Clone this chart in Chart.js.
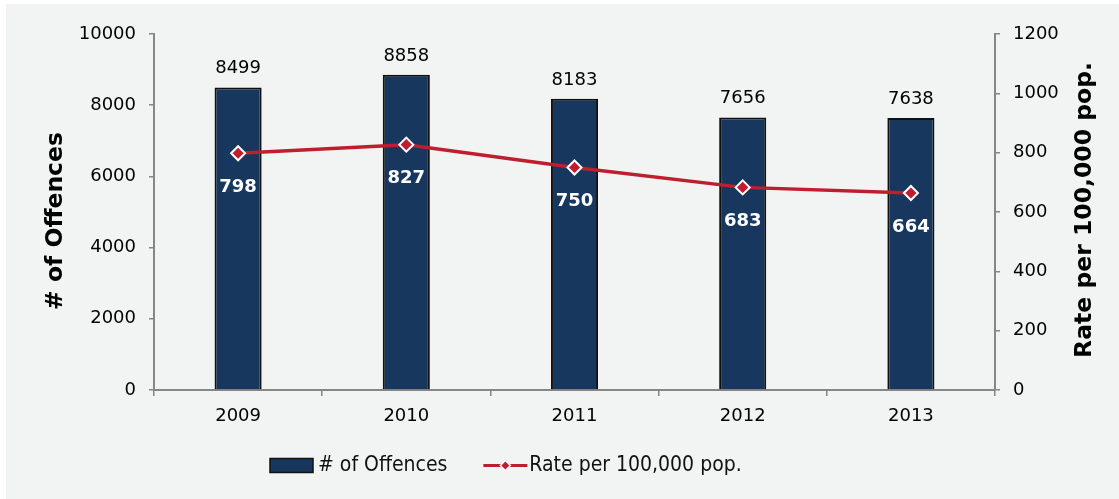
<!DOCTYPE html>
<html>
<head>
<meta charset="utf-8">
<script src="https://cdn.jsdelivr.net/npm/chart.js@4/dist/chart.umd.min.js"></script>
<style>
  html, body { margin: 0; padding: 0; background: #ffffff; }
  #wrap { width: 1119px; height: 499px; }
</style>
</head>
<body>
<div id="wrap"><canvas id="c" width="1119" height="499"></canvas></div>
<script>
// Offences recorded and rate per 100,000 population, by year
const years = ['2009', '2010', '2011', '2012', '2013'];
const offences = [8499, 8858, 8183, 7656, 7638];
const ratePer100k = [798, 827, 750, 683, 664];
const offenceTicks = [0, 2000, 4000, 6000, 8000, 10000];
const rateTicks = [0, 200, 400, 600, 800, 1000, 1200];

const NAVY = '#17375e';
const RED = '#be1e2d';
const AXIS = '#868686';
const FONT = '"DejaVu Sans", Verdana, sans-serif';
const LEGEND_FONT = '"DejaVu Sans Condensed", "Liberation Sans", sans-serif';

// Panel background behind everything
const panelBg = {
  id: 'panelBg',
  beforeDraw(chart) {
    const ctx = chart.ctx;
    ctx.save();
    ctx.fillStyle = '#f2f3f3';
    ctx.fillRect(6, 4, chart.width - 6, chart.height - 4);
    ctx.restore();
  }
};

// Value labels, rotated axis titles and the legend row
const annotations = {
  id: 'annotations',
  afterDatasetsDraw(chart) {
    const ctx = chart.ctx;
    ctx.save();

    // bar values above each bar
    const barMeta = chart.getDatasetMeta(0);
    ctx.font = '18px ' + FONT;
    ctx.fillStyle = '#000000';
    ctx.textAlign = 'center';
    ctx.textBaseline = 'alphabetic';
    barMeta.data.forEach((bar, i) => {
      ctx.fillText(String(offences[i]), bar.x, bar.y - 14);
    });

    // rate values below each point
    const lineMeta = chart.getDatasetMeta(1);
    ctx.font = 'bold 18px ' + FONT;
    ctx.fillStyle = '#ffffff';
    lineMeta.data.forEach((pt, i) => {
      ctx.fillText(String(ratePer100k[i]), pt.x, pt.y + 38.5);
    });

    // axis titles, both reading bottom to top
    ctx.font = 'bold 23.5px ' + FONT;
    ctx.fillStyle = '#000000';
    ctx.textBaseline = 'middle';
    [[56, 221, '# of Offences'], [1085, 210, 'Rate per 100,000 pop.']].forEach(([x, y, t]) => {
      ctx.save();
      ctx.translate(x, y);
      ctx.rotate(-Math.PI / 2);
      ctx.fillText(t, 0, 0);
      ctx.restore();
    });

    // legend
    const ly = 465.5;
    let lx = 270;
    ctx.font = '21px ' + LEGEND_FONT;
    ctx.textAlign = 'left';
    ctx.textBaseline = 'middle';
    ctx.fillStyle = NAVY;
    ctx.strokeStyle = '#111111';
    ctx.lineWidth = 1.5;
    ctx.fillRect(lx, ly - 7, 43, 14);
    ctx.strokeRect(lx, ly - 7, 43, 14);
    lx += 48;
    ctx.fillStyle = '#111111';
    const t1 = chart.data.datasets[0].label;
    ctx.fillText(t1, lx, ly);
    lx += ctx.measureText(t1).width + 36;
    ctx.strokeStyle = RED;
    ctx.lineWidth = 3;
    ctx.beginPath();
    ctx.moveTo(lx, ly);
    ctx.lineTo(lx + 44, ly);
    ctx.stroke();
    const cx = lx + 22, r = 5;
    ctx.beginPath();
    ctx.moveTo(cx - r, ly); ctx.lineTo(cx, ly - r); ctx.lineTo(cx + r, ly); ctx.lineTo(cx, ly + r);
    ctx.closePath();
    ctx.fillStyle = RED;
    ctx.fill();
    ctx.strokeStyle = '#ffffff';
    ctx.lineWidth = 1.5;
    ctx.stroke();
    lx += 46;
    ctx.fillStyle = '#111111';
    ctx.fillText(chart.data.datasets[1].label, lx, ly);

    ctx.restore();
  }
};

const tickOpts = {
  font: { family: FONT, size: 18 },
  color: '#000000'
};
const plainNumber = v => String(v);

new Chart(document.getElementById('c'), {
  type: 'bar',
  data: {
    labels: years,
    datasets: [
      {
        type: 'bar',
        label: '# of Offences',
        data: offences,
        yAxisID: 'y',
        backgroundColor: NAVY,
        borderColor: '#111111',
        borderWidth: 2,
        categoryPercentage: 1,
        barPercentage: 0.28,
        order: 2
      },
      {
        type: 'line',
        label: 'Rate per 100,000 pop.',
        data: ratePer100k,
        yAxisID: 'y1',
        borderColor: RED,
        borderWidth: 3.5,
        pointStyle: 'rectRot',
        pointRadius: 7,
        pointHoverRadius: 7,
        pointBackgroundColor: RED,
        pointBorderColor: '#ffffff',
        pointBorderWidth: 2,
        tension: 0,
        order: 1
      }
    ]
  },
  options: {
    responsive: false,
    animation: false,
    events: [],
    layout: { padding: { top: 34, left: 0, right: 0, bottom: 0 } },
    plugins: {
      legend: { display: false },
      tooltip: { enabled: false }
    },
    scales: {
      x: {
        type: 'category',
        offset: true,
        grid: { offset: true, drawOnChartArea: false, drawTicks: true, tickLength: 6, color: AXIS, lineWidth: 1.5 },
        border: { color: AXIS, width: 2 },
        ticks: Object.assign({ padding: 10, maxRotation: 0 }, tickOpts),
        afterFit(scale) { scale.height = 109; }
      },
      y: {
        position: 'left',
        min: 0,
        max: 10000,
        afterBuildTicks(scale) { scale.ticks = offenceTicks.map(v => ({ value: v })); },
        grid: { drawOnChartArea: false, drawTicks: true, tickLength: 5, color: AXIS, lineWidth: 1.5 },
        border: { color: AXIS, width: 2 },
        ticks: Object.assign({ padding: 13, callback: plainNumber }, tickOpts),
        afterFit(scale) { scale.width = 154; }
      },
      y1: {
        position: 'right',
        min: 0,
        max: 1200,
        afterBuildTicks(scale) { scale.ticks = rateTicks.map(v => ({ value: v })); },
        grid: { drawOnChartArea: false, drawTicks: true, tickLength: 5, color: AXIS, lineWidth: 1.5 },
        border: { color: AXIS, width: 2 },
        ticks: Object.assign({ padding: 13, callback: plainNumber }, tickOpts),
        afterFit(scale) { scale.width = 124; }
      }
    }
  },
  plugins: [panelBg, annotations]
});
</script>
</body>
</html>
